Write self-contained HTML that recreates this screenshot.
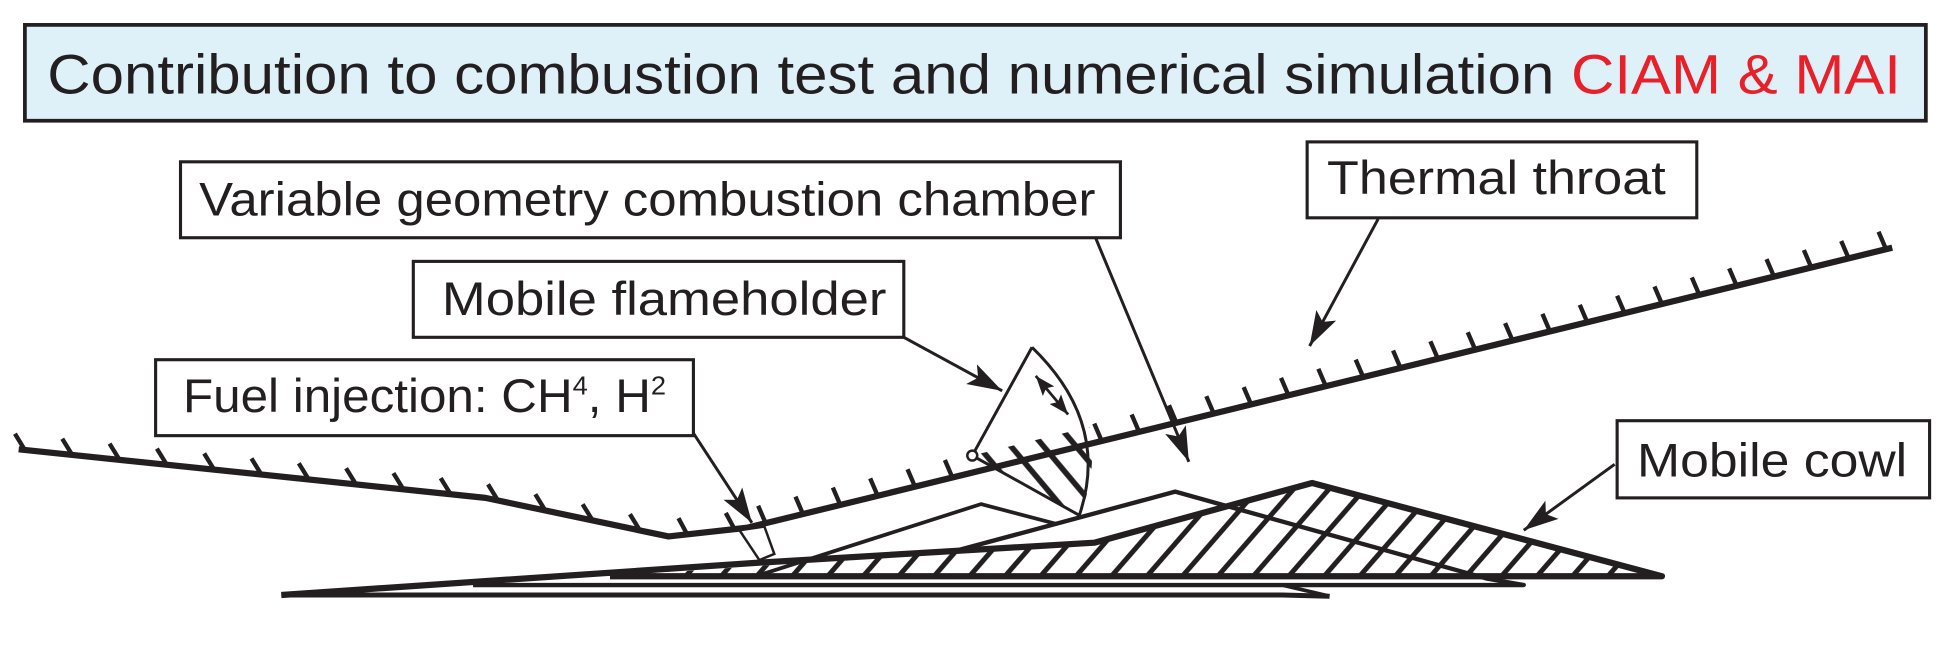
<!DOCTYPE html>
<html><head><meta charset="utf-8"><style>
html,body{margin:0;padding:0;background:#fff;}
svg{display:block;}
text{font-family:"Liberation Sans",sans-serif;fill:#231f20;}
</style></head><body>
<svg width="1952" height="646" viewBox="0 0 1568 519" preserveAspectRatio="none" xmlns="http://www.w3.org/2000/svg">
<defs>
<marker id="ah" markerUnits="userSpaceOnUse" markerWidth="30" markerHeight="20" refX="28" refY="9" orient="auto">
<path d="M0,0 L28,9 L0,18 L6,9 Z" fill="#231f20"/></marker>
<marker id="sh" markerUnits="userSpaceOnUse" markerWidth="18" markerHeight="12" refX="16" refY="6" orient="auto">
<path d="M0,0 L16,6 L0,12 L3,6 Z" fill="#231f20"/></marker>
<marker id="shs" markerUnits="userSpaceOnUse" markerWidth="18" markerHeight="12" refX="0" refY="6" orient="auto">
<path d="M16,0 L0,6 L16,12 L13,6 Z" fill="#231f20"/></marker>
<pattern id="hc" width="21.5" height="40" patternUnits="userSpaceOnUse" patternTransform="rotate(41)">
<line x1="10" y1="0" x2="10" y2="40" stroke="#231f20" stroke-width="4"/></pattern>
<pattern id="hf" width="20" height="40" patternUnits="userSpaceOnUse" patternTransform="translate(802,362) rotate(-40)">
<line x1="10" y1="0" x2="10" y2="40" stroke="#231f20" stroke-width="4.5"/></pattern>
<clipPath id="fc"><path d="M781,366 L875,343 Q882,380 867,414 Z"/></clipPath>
</defs>

<!-- title -->
<rect x="20" y="20" width="1527" height="77" fill="#dff1f8" stroke="#231f20" stroke-width="3"/>
<text x="38" y="75" font-size="45" textLength="1489" lengthAdjust="spacingAndGlyphs">Contribution to combustion test and numerical simulation <tspan style="fill:#e8202a">CIAM &amp; MAI</tspan></text>

<!-- boxes -->
<g fill="#fff" stroke="#231f20" stroke-width="2.5">
<rect x="145" y="130" width="755" height="61"/>
<rect x="1050" y="114" width="313" height="61"/>
<rect x="332" y="210" width="394" height="61"/>
<rect x="125" y="289" width="432" height="61"/>
<rect x="1299" y="338" width="251" height="62"/>
</g>
<g font-size="38">
<text x="160" y="173" textLength="720" lengthAdjust="spacingAndGlyphs">Variable geometry combustion chamber</text>
<text x="1066" y="156" textLength="272" lengthAdjust="spacingAndGlyphs">Thermal throat</text>
<text x="355" y="253" textLength="357" lengthAdjust="spacingAndGlyphs">Mobile flameholder</text>
<text x="147" y="331" textLength="388" lengthAdjust="spacingAndGlyphs">Fuel injection: CH<tspan font-size="21" dy="-14">4</tspan><tspan dy="14">, H</tspan><tspan font-size="21" dy="-14">2</tspan></text>
<text x="1315" y="383" textLength="217" lengthAdjust="spacingAndGlyphs">Mobile cowl</text>
</g>

<!-- hatched regions -->
<path d="M490,463 L879,436 L1054,388 L1335,463 Z" fill="url(#hc)"/>
<rect x="770" y="330" width="120" height="90" fill="url(#hf)" clip-path="url(#fc)"/>

<!-- bottom wedges -->
<g fill="none" stroke="#231f20" stroke-linejoin="round">
<path d="M226,478 L1030,478 L1068,479" stroke-width="4"/>
<path d="M1030,470 L1068,479" stroke-width="3"/>
<path d="M380,470 L1224,470 L1195,465 L944,395 L766,443" stroke-width="3.5"/>
<path d="M607,463 L788,405 L849,421" stroke-width="3"/>
<path d="M490,463 L1335,463 L1054,388 L879,436 L610,452 L226,478" stroke-width="5"/>
</g>

<!-- wall -->
<path d="M15,361 L390,400 L537,431 L600,424 L1520,199" fill="none" stroke="#231f20" stroke-width="5" stroke-linejoin="round"/>
<g stroke="#231f20" stroke-width="3.5">
<path d="M20,361.5 l-8,-13 M58,365.5 l-8,-13 M96,369.4 l-8,-13 M134,373.4 l-8,-13 M172,377.3 l-8,-13 M210,381.3 l-8,-13 M248,385.2 l-8,-13 M286,389.2 l-8,-13 M324,393.1 l-8,-13 M362,397.1 l-8,-13 M400,402.1 l-8,-13 M438,410.1 l-8,-13 M476,418.1 l-8,-13 M514,426.1 l-8,-13 M552,429.3 l-7,-13 M590,425.1 l-7,-13"/>
<path d="M615,420.3 l-6,-14 M645,413 l-6,-14 M675,405.7 l-6,-14 M705,398.3 l-6,-14 M735,391 l-6,-14 M765,383.6 l-6,-14 M885,354.3 l-6,-14 M915,347 l-6,-14 M945,339.6 l-6,-14 M975,332.3 l-6,-14 M1005,325 l-6,-14 M1035,317.6 l-6,-14 M1065,310.3 l-6,-14 M1095,302.9 l-6,-14 M1125,295.6 l-6,-14 M1155,288.2 l-6,-14 M1185,280.9 l-6,-14 M1215,273.6 l-6,-14 M1245,266.2 l-6,-14 M1275,258.9 l-6,-14 M1305,251.6 l-6,-14 M1335,244.2 l-6,-14 M1365,236.9 l-6,-14 M1395,229.6 l-6,-14 M1425,222.2 l-6,-14 M1455,214.9 l-6,-14 M1485,207.6 l-6,-14 M1515,200.2 l-6,-14"/>
</g>

<!-- flameholder -->
<g fill="none" stroke="#231f20" stroke-width="2.4">
<path d="M781,366 L829,279"/>
<path d="M829,279 Q892,340 867,414"/>
<path d="M781,366 L867,414"/>
</g>
<circle cx="781" cy="366" r="4" fill="#fff" stroke="#231f20" stroke-width="2"/>
<line x1="832" y1="302" x2="858" y2="333" stroke="#231f20" stroke-width="2.2" marker-start="url(#shs)" marker-end="url(#sh)"/>

<!-- injector -->
<path d="M594,426 L614,423 L622,445 L610,450 Z" fill="#fff" stroke="#231f20" stroke-width="2"/>

<!-- leader arrows -->
<g stroke="#231f20" stroke-width="2.4" fill="none">
<line x1="557" y1="348" x2="604" y2="420" marker-end="url(#ah)"/>
<line x1="726" y1="271" x2="805" y2="314" marker-end="url(#ah)"/>
<line x1="880" y1="191" x2="955" y2="371" marker-end="url(#ah)"/>
<line x1="1107" y1="176" x2="1052" y2="278" marker-end="url(#ah)"/>
<line x1="1297" y1="373" x2="1224" y2="426" marker-end="url(#ah)"/>
</g>
</svg>
</body></html>
